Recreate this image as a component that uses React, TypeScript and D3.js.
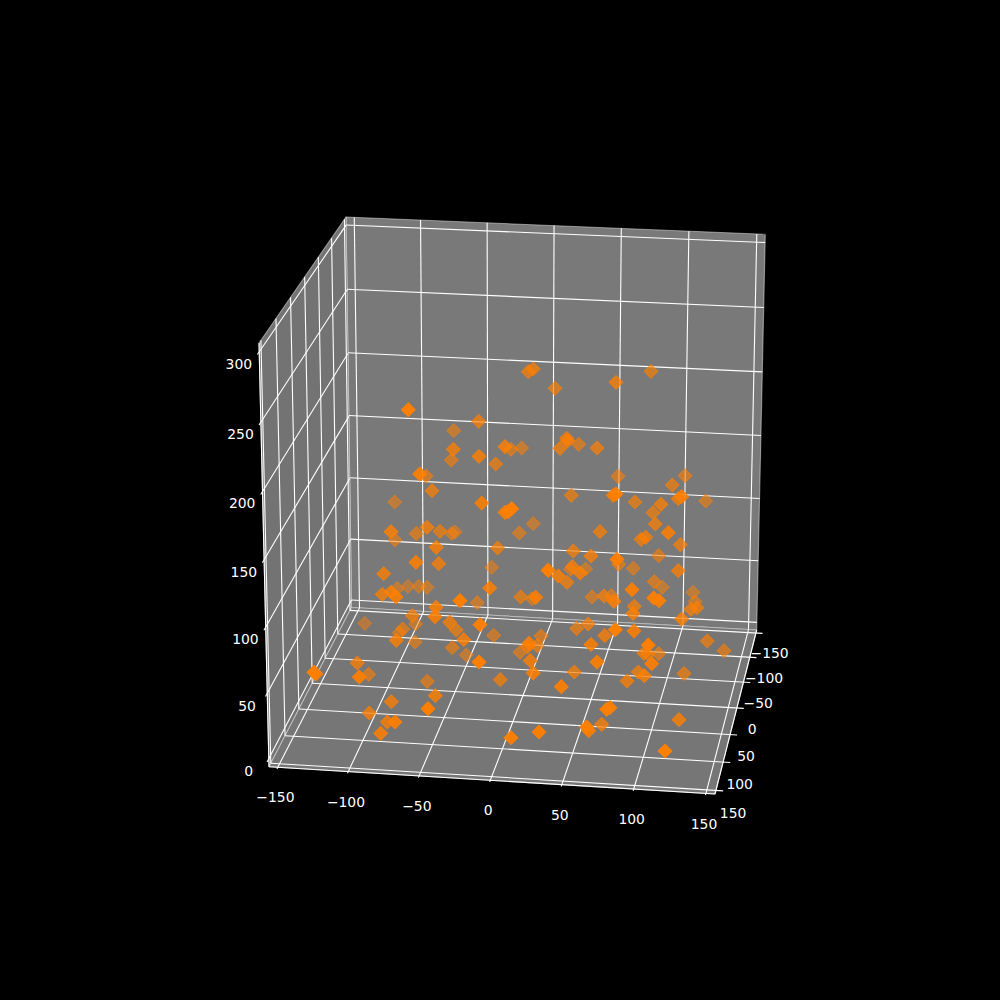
import React from "react";
import * as d3 from "d3";

const size = 1000;

// axis ticks
const xTicks = [-150, -100, -50, 0, 50, 100, 150];
const yTicks = [-150, -100, -50, 0, 50, 100, 150];
const zTicks = [0, 50, 100, 150, 200, 250, 300];

// points as seen in the view plane (origin at the middle of the picture), with their depth shade
const viewH = [
  28.3, 33.3, 55, -91.7, -21.3, -46.3, -46.7, -48.7, -21, -4.3,
  5, 11, 21.7, 60, 66.7, 67.7, 78.7, 97, -80.3, -74,
  -68, -105.3, -18.3, 5, 11.7, 8, 33.3, 71.3, 19.3, 100,
  -109, -105, -83.7, -73, -60, -48.3, -45, -63.7, -2.3, -84,
  -61.3, -8.3, -116.3, 73.3, 91, 48, 58.3, 67, 72.3, 70.7,
  80.3, 85.7, -117.7, -109, -104, -102.7, -92, -81.3, -73, -40,
  -22.7, -10.3, 20.7, 32.3, 35.7, 92, -64, -65, -87.7, -84.3,
  -135.3, -97.3, -100.7, -103.7, -85, -50.3, -43.7, -36.3, -47.7, -33.7,
  -20, -6.3, 20, 29, 27.7, 41, 37.3, 30.3, 76.7, 88,
  91, -142.7, -140.7, -131.3, -72.7, -64.7, -72, -108.7, -130.7, -112.7,
  -105, -119.3, -21, 0.3, 33.3, 11, 39, -186, -184, 104.7,
  115.3, 134, 133, 181.7, 207.3, 224, 97, 74.3, 61.3, 148.3,
  144, 148, 158.7, 151.7, 138.3, 144.3, 127, 184, 106.7, 110,
  101.7, 86.7, 88.7, 179, 165, 104, 111.3, 114, 117, 118.7,
  133.3, 132, 134.3, 141, 145.7, 168.3, 180.3, 158.7, 178.3, 154.3,
  162.3, 153.7, 159, 193, 195, 191, 197, 151, 116, 118,
  185, 172.3, 116, 113.3, 181.7, 178.3, 205.7, 135, 161, 153,
  155.3,
];
const viewV = [
  128.3, 131, 111.7, 90.3, 78.7, 69.3, 50.7, 40, 43.7, 36,
  53.3, 50.7, 52, 51.7, 61.7, 59.3, 55.7, 52, 26, 24,
  9.3, -2, -3, -12.3, -8.7, -11.7, -23.7, 4.7, -33, -31.7,
  -31.7, -40, -33.7, -27.3, -31.3, -33.3, -32, -47.3, -48, -62.3,
  -63.7, -67.3, -73.7, -51, -56, -70.3, -76, -82.3, -66.7, -69.3,
  -73, -69, -94.3, -92, -97, -88.7, -86.3, -86.3, -87.3, -100.7,
  -102.7, -88, -97, -98.7, -97.3, -97, -107.3, -116.7, -115.7, -124,
  -123.3, -129, -132.7, -140.3, -142, -122.3, -130, -139.7, -147.7, -155,
  -124.7, -135.3, -152.3, -143.3, -146.7, -136, -145.7, -160.7, -128.5, -124,
  -144.5, -163, -177, -174.3, -181.3, -195.7, -208.7, -201.7, -213, -222,
  -222, -233.3, -162, -179.7, -173, -237.7, -232, -172.3, -174, -135.7,
  -129.7, -131, -113.5, -119, -141, -150.7, -162, -172, -186.7, -145,
  -153.3, -154, -153.7, -163.7, -172, -175.7, -181, -173.5, -209.3, -207.7,
  -224.3, -227, -230.7, -219.7, -251, -96, -95.7, -101.3, -59.3, -64.3,
  -68.3, -89.7, -106.3, -39.3, -37.3, -32.7, -44.7, -55.7, -70.7, -81.7,
  -87.3, -98, -100.7, -92.3, -101.7, -109.3, -107.7, 128.7, 117.7, 23.7,
  24.3, 15, 6, 4.7, 3.3, 1.3, -1, -2, -4.3, -12.7,
  -24,
];
const shade = [
  0.7, 0.7, 0.65, 1, 0.7, 0.55, 0.75, 0.6, 0.8, 0.65,
  0.8, 0.6, 0.55, 0.7, 0.7, 0.8, 0.6, 0.7, 0.9, 0.6,
  0.7, 0.5, 0.85, 0.85, 1, 1, 0.5, 0.65, 0.55, 0.7,
  0.8, 0.55, 0.6, 0.75, 0.65, 0.55, 0.5, 0.8, 0.7, 0.85,
  0.75, 0.5, 0.75, 0.7, 0.75, 1, 0.8, 0.7, 0.75, 0.5,
  0.8, 0.5, 0.75, 0.8, 0.85, 0.5, 0.45, 0.5, 0.5, 1,
  0.55, 0.85, 0.65, 0.55, 0.85, 0.55, 0.85, 0.85, 0.7, 0.5,
  0.45, 0.6, 0.5, 0.8, 0.55, 0.75, 0.65, 0.8, 0.6, 0.5,
  0.95, 0.55, 0.55, 0.85, 0.7, 0.6, 0.65, 0.8, 0.65, 0.7,
  0.85, 0.75, 0.95, 0.6, 0.6, 0.8, 1, 0.75, 0.75, 0.75,
  0.9, 0.85, 1, 0.7, 0.85, 0.95, 0.95, 1, 0.85, 0.75,
  1, 0.85, 0.8, 0.8, 0.65, 0.6, 0.9, 0.7, 0.9, 1,
  0.7, 0.65, 0.6, 0.9, 0.7, 0.8, 0.75, 0.65, 0.95, 0.9,
  0.75, 1, 0.9, 0.8, 1, 0.7, 0.55, 0.85, 1, 0.6,
  0.55, 0.9, 0.7, 0.7, 0.75, 0.85, 0.7, 0.6, 0.75, 0.6,
  0.5, 0.95, 0.95, 0.5, 0.5, 0.7, 0.7, 0.65, 0.75, 0.6,
  0.6, 0.65, 0.9, 0.85, 0.85, 0.7, 0.55, 0.65, 0.75, 0.65,
  0.7,
];

type Pt = [number, number];

// box corners on the picture
const backTopLeft: Pt = [346, 217];
const backTopRight: Pt = [765.3, 234.3];
const backBottomRight: Pt = [756.7, 630];
const backBottomLeft: Pt = [351.5, 607.5];
const nearTopLeft: Pt = [259, 343];
const nearBottomLeft: Pt = [269, 766.7];
const nearBottomRight: Pt = [715, 794];

// unit square to quad, so the panes keep their perspective
const quad = (p00: Pt, p10: Pt, p11: Pt, p01: Pt) => {
  const dx1 = p10[0] - p11[0];
  const dx2 = p01[0] - p11[0];
  const dy1 = p10[1] - p11[1];
  const dy2 = p01[1] - p11[1];
  const sx = p00[0] - p10[0] + p11[0] - p01[0];
  const sy = p00[1] - p10[1] + p11[1] - p01[1];
  const den = dx1 * dy2 - dx2 * dy1;
  const g = (sx * dy2 - dx2 * sy) / den;
  const h = (dx1 * sy - sx * dy1) / den;
  const a = p10[0] - p00[0] + g * p10[0];
  const b = p01[0] - p00[0] + h * p01[0];
  const d = p10[1] - p00[1] + g * p10[1];
  const e = p01[1] - p00[1] + h * p01[1];
  return (s: number, t: number): Pt => {
    const w = g * s + h * t + 1;
    return [(a * s + b * t + p00[0]) / w, (d * s + e * t + p00[1]) / w];
  };
};

const limit = 156.25;
const xScale = d3.scaleLinear().domain([-limit, limit]).range([0, 1]);
const yScale = d3.scaleLinear().domain([-limit, limit]).range([0, 1]);
const zScale = d3.scaleLinear().domain([-6.25, 306.25]).range([0, 1]);

const backPane = quad(backBottomLeft, backBottomRight, backTopRight, backTopLeft);
const leftPane = quad(backBottomLeft, nearBottomLeft, nearTopLeft, backTopLeft);
const floorPane = quad(backBottomLeft, backBottomRight, nearBottomRight, nearBottomLeft);

const onBack = (x: number, z: number) => backPane(xScale(x), zScale(z));
const onLeft = (y: number, z: number) => leftPane(yScale(y), zScale(z));
const onFloor = (x: number, y: number) => floorPane(xScale(x), yScale(y));

const viewXScale = d3.scaleLinear().domain([-500, 500]).range([0, size]);
const viewYScale = d3.scaleLinear().domain([-500, 500]).range([size, 0]);

const line = d3.line<Pt>();
const diamond = d3.symbol().type(d3.symbolSquare).size(95)()!;

const points = d3
  .range(viewH.length)
  .sort((a, b) => d3.ascending(shade[a], shade[b]));

const pane = (pts: Pt[], fill: string) => (
  <path
    d={line(pts)! + "Z"}
    fill={fill}
    stroke="#fff"
    strokeOpacity={0.45}
    strokeWidth={1.1}
    strokeLinejoin="round"
  />
);

const rule = (a: Pt, b: Pt, key: string) => (
  <path key={key} d={line([a, b])!} stroke="#fff" strokeWidth={1.1} fill="none" />
);

const label = (p: Pt, value: number, key: string) => (
  <text
    key={key}
    x={p[0]}
    y={p[1]}
    fill="#fff"
    fontSize={13.9}
    fontFamily="'DejaVu Sans'"
    textAnchor="middle"
    dominantBaseline="central"
  >
    {String(value).replace("-", "\u2212")}
  </text>
);

const App = () => {
  return (
    <svg
      width={size}
      height={size}
      style={{ position: "absolute", left: 0, top: 0, background: "#000" }}
    >
      {pane([backTopLeft, backTopRight, backBottomRight, backBottomLeft], "#797979")}
      {pane([backTopLeft, nearTopLeft, nearBottomLeft, backBottomLeft], "#737373")}
      {pane([backBottomLeft, backBottomRight, nearBottomRight, nearBottomLeft], "#767676")}

      {xTicks.map((t) => rule(onBack(t, -6.25), onBack(t, 306.25), `bx${t}`))}
      {zTicks.map((t) => rule(onBack(-limit, t), onBack(limit, t), `bz${t}`))}
      {yTicks.map((t) => rule(onLeft(t, -6.25), onLeft(t, 306.25), `ly${t}`))}
      {zTicks.map((t) => rule(onLeft(-limit, t), onLeft(limit + 6, t), `lz${t}`))}
      {xTicks.map((t) => rule(onFloor(t, -limit), onFloor(t, limit + 3), `fx${t}`))}
      {yTicks.map((t) => rule(onFloor(-limit, t), onFloor(limit + 5, t), `fy${t}`))}

      {rule(nearTopLeft, nearBottomLeft, "zAxis")}
      {rule(nearBottomLeft, nearBottomRight, "xAxis")}
      {rule(nearBottomRight, backBottomRight, "yAxis")}

      {points.map((i) => (
        <path
          key={i}
          d={diamond}
          transform={`translate(${viewXScale(viewH[i])},${viewYScale(viewV[i])}) rotate(45)`}
          fill="#ff7f00"
          fillOpacity={shade[i]}
          stroke="#ff7f00"
          strokeOpacity={shade[i]}
          strokeWidth={1}
        />
      ))}

      {xTicks.map((t) => {
        const p = onFloor(t, limit + 3);
        return label([p[0] - 1.5, p[1] + 28.5], t, `xl${t}`);
      })}
      {yTicks.map((t) => {
        const p = onFloor(limit + 5, t);
        const far = 1 - yScale(t);
        return label([p[0] + 10 - 3 * far, p[1] + 22 - 2 * far], t, `yl${t}`);
      })}
      {zTicks.map((t) => {
        const p = onLeft(limit + 6, t);
        return label([p[0] - 18.5, p[1] + 9], t, `zl${t}`);
      })}
    </svg>
  );
};

export default App;
